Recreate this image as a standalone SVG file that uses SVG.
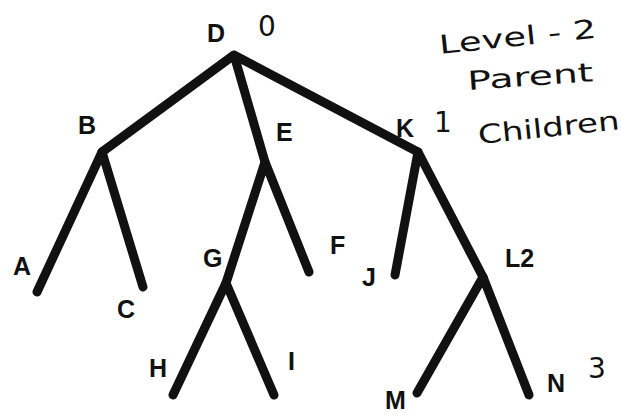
<svg xmlns="http://www.w3.org/2000/svg" width="621" height="415" viewBox="0 0 621 415">
<style>
.e{stroke:#111;stroke-width:9;stroke-linecap:round;fill:none}
.l{font-family:"Liberation Sans",Arial,sans-serif;font-weight:bold;font-size:25px;fill:#111}
.h{font-family:"DejaVu Sans",sans-serif;font-size:26px;fill:#111}
.n{font-family:"DejaVu Sans",sans-serif;font-size:28px;fill:#111}
</style>
<rect width="621" height="415" fill="#fff"/>
<g id="connectors">
<path class="e" d="M234 55L102 152M234 55L265 162M234 55L418 152"/>
<path class="e" d="M102 152L37 292M102 152L143 287"/>
<path class="e" d="M265 162L226 283M265 162L309 272"/>
<path class="e" d="M226 283L173 395M226 283L274 395"/>
<path class="e" d="M418 152L395 275M418 152L483 277"/>
<path class="e" d="M483 277L417 393M483 277L529 395"/>
</g>
<g id="D"><text class="l" x="207" y="42">D</text><text class="n" x="258" y="36">0</text></g>
<g id="B"><text class="l" x="78" y="134">B</text></g>
<g id="E"><text class="l" x="276" y="141">E</text></g>
<g id="K"><text class="l" x="396" y="137">K</text><text class="n" x="434" y="132">1</text></g>
<g id="A"><text class="l" x="13" y="275">A</text></g>
<g id="C"><text class="l" x="117" y="318">C</text></g>
<g id="G"><text class="l" x="203" y="267">G</text></g>
<g id="F"><text class="l" x="330" y="254">F</text></g>
<g id="J"><text class="l" x="362" y="286">J</text></g>
<g id="L"><text class="l" x="505" y="267">L2</text></g>
<g id="H"><text class="l" x="149" y="377">H</text></g>
<g id="I"><text class="l" x="288" y="370">I</text></g>
<g id="M"><text class="l" x="385" y="409">M</text></g>
<g id="N"><text class="l" x="547" y="392">N</text><text class="n" x="588" y="378">3</text></g>
<g id="notes">
<text class="h" x="440" y="54" textLength="158" lengthAdjust="spacingAndGlyphs" transform="rotate(-6 440 54)">Level - 2</text>
<text class="h" x="468" y="90" textLength="126" lengthAdjust="spacingAndGlyphs" transform="rotate(-4 468 90)">Parent</text>
<text class="h" x="479" y="144" textLength="142" lengthAdjust="spacingAndGlyphs" transform="rotate(-6 479 144)">Children</text>
</g>
</svg>
